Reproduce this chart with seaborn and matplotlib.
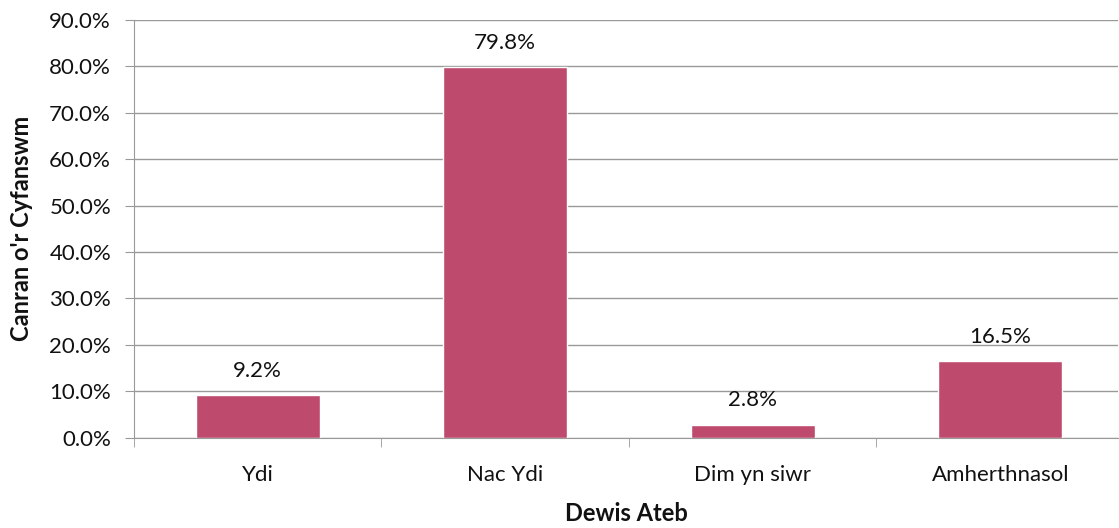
import matplotlib
matplotlib.use("Agg")
import matplotlib.pyplot as plt
import seaborn as sns
import pandas as pd
import numpy as np
from matplotlib.ticker import FixedLocator

categories = ["Ydi", "Nac Ydi", "Dim yn siwr", "Amherthnasol"]
values = [9.2, 79.8, 2.8, 16.5]

sns.set_style("white")
plt.rcParams['font.family'] = ['Lato', 'DejaVu Sans']

df = pd.DataFrame({"cat": categories, "val": values})

W, H = 1119, 528
fig = plt.figure(figsize=(W / 100, H / 100), dpi=100)
ax = fig.add_axes([134 / W, 1 - 437.5 / H, (1118 - 134) / W, (437.5 - 20) / H])
sns.barplot(data=df, x="cat", y="val", color="#BE4B6E", saturation=1, width=0.5, ax=ax)

# value labels above the bars
for i, v in enumerate(values):
    ax.text(i, v + 5.2, f"{v:.1f}%", ha="center", va="center", fontsize=16, color="#111111")

ax.set_ylim(0, 90)
ax.set_xlim(-0.5, 3.476)
ax.set_yticks(np.arange(0, 91, 10))
ax.set_yticklabels([f"{t:.1f}%" for t in np.arange(0, 91, 10)], fontsize=16)
ax.yaxis.grid(True, color="#999999", linewidth=1)
ax.set_axisbelow(True)
for s in ["top", "right"]:
    ax.spines[s].set_visible(False)
for s in ["left", "bottom"]:
    ax.spines[s].set_color("#999999")
ax.tick_params(axis="y", length=6.5, color="#999999", left=True, pad=10, labelcolor="#111111")
ax.tick_params(axis="x", which="major", length=0, labelsize=16, pad=20, labelcolor="#111111")
ax.xaxis.set_minor_locator(FixedLocator([-0.5, 0.5, 1.5, 2.5]))
ax.tick_params(axis="x", which="minor", length=6.5, color="#999999", bottom=True)

ax.set_xlabel("Dewis Ateb", fontsize=17, fontweight="bold", labelpad=12, color="#111111")
ax.set_ylabel("Canran o'r Cyfanswm", fontsize=17, fontweight="bold", labelpad=12, color="#111111")

fig.savefig("out.png", dpi=100)
